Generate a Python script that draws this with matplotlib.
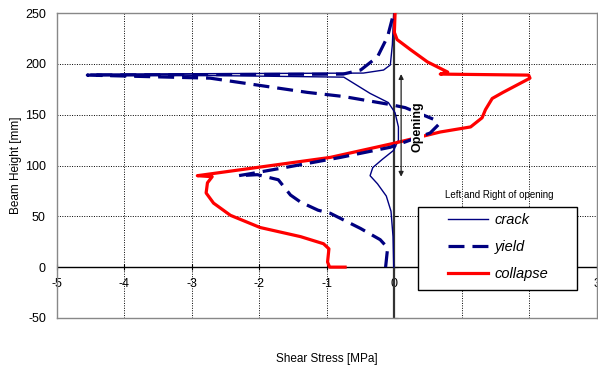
import matplotlib
matplotlib.use("Agg")
import matplotlib.pyplot as plt
from matplotlib.patches import Rectangle

plt.rcParams['font.family'] = ['Liberation Sans', 'DejaVu Sans']
plt.rcParams['axes.unicode_minus'] = False

# ---- data ----
crack_x = [-0.01, -0.02, -0.05, -0.12, -0.25, -0.36, -0.32, -0.18, -0.01, 0.06, 0.06, 0.01,
           -0.09, -0.36, -0.75, -4.5, -0.46, -0.16, -0.06, -0.03, -0.01]
crack_y = [0, 30, 55, 70, 82, 90, 98, 106, 115, 125, 138, 152,
           162, 171, 187, 190, 191, 194, 199, 219, 250]

yield_x = [-0.13, -0.10, -0.21, -0.50, -0.95, -1.13, -1.39, -1.54, -1.72, -2.03, -2.31, -2.13,
           -1.54, -0.80, -0.06, 0.53, 0.65, 0.60, 0.16, -0.06, -0.76, -1.29, -2.73, -4.55,
           -0.76, -0.50, -0.25, -0.10, -0.01]
yield_y = [0, 19, 27, 38, 53, 56, 64, 71, 86, 91, 90, 92,
           99, 108, 118, 132, 140, 145, 157, 160, 168, 172, 186, 189,
           190, 194, 207, 227, 250]

collapse_x = [-0.73, -0.96, -0.99, -0.97, -1.05, -1.39, -1.99, -2.43, -2.68, -2.79, -2.77, -2.70,
              -2.92, -0.95, 0.0, 0.68, 1.13, 1.30, 1.35, 1.45, 1.61, 2.01, 1.99, 0.68,
              0.79, 0.49, 0.24, 0.04, 0.0, 0.01]
collapse_y = [0, 0, 5, 18, 23, 30, 39, 51, 63, 73, 83, 89,
              90, 108, 122, 133, 138, 147, 155, 166, 172, 186, 189, 190,
              192, 202, 214, 224, 231, 250]

x_ticks = [-5, -4, -3, -2, -1, 0, 1, 2, 3]
y_ticks = [-50, 0, 50, 100, 150, 200, 250]
opening_span = (89, 190)
opening_x = 0.1

# ---- figure ----
fig = plt.figure(figsize=(5.98, 3.65), dpi=100)
ax = fig.add_axes([0.0953, 0.129, 0.9027, 0.835])
ax.set_xlim(-5, 3)
ax.set_ylim(-50, 250)
ax.set_xticks(x_ticks)
ax.set_yticks(y_ticks)
ax.grid(True, color='black', linestyle=(0, (1, 1.5)), linewidth=0.7)
ax.tick_params(axis='x', length=0, labelbottom=False)
ax.tick_params(axis='y', length=0, labelsize=9, pad=8)
for s in ax.spines.values():
    s.set_color('#888888')
    s.set_linewidth(1.0)

ax.axhline(0, color='black', linewidth=1.0, zorder=2)
ax.axvline(0, color='#333333', linewidth=1.6, zorder=2)

# x tick labels on the zero line
sec = ax.secondary_xaxis(1/6)
sec.set_xticks(x_ticks)
sec.tick_params(axis='x', direction='inout', length=4, labelsize=9, pad=6, color='black')
sec.spines['bottom'].set_visible(False)

secy = ax.secondary_yaxis(5/8)
secy.set_yticks(y_ticks)
secy.tick_params(axis='y', direction='out', length=3, labelleft=False, labelright=False,
                 color='black')
secy.spines['left'].set_visible(False)
secy.spines['right'].set_visible(False)

l1, = ax.plot(crack_x, crack_y, color='#000080', linewidth=1.0, label='crack', zorder=3)
l2, = ax.plot(yield_x, yield_y, color='#000080', linewidth=2.3, linestyle=(0, (5, 2.5)),
              label='yield', zorder=4)
l3, = ax.plot(collapse_x, collapse_y, color='#ff0000', linewidth=2.3, label='collapse', zorder=3)

ax.annotate('', xy=(opening_x, opening_span[0]), xytext=(opening_x, opening_span[1]),
            arrowprops=dict(arrowstyle='<|-|>', color='#222222', lw=0.9,
                            mutation_scale=7, shrinkA=0, shrinkB=0), zorder=5)
ax.text(0.34, 138, 'Opening', rotation=90, ha='center', va='center', fontsize=9,
        fontweight='bold', zorder=6,
        bbox=dict(facecolor='white', edgecolor='none', pad=0.5))

# legend box
ax.add_patch(Rectangle((0.669, 0.092), 0.294, 0.272, transform=ax.transAxes,
                       facecolor='white', edgecolor='black', linewidth=1.0, zorder=7))
leg = ax.legend(handles=[l1, l2, l3], loc='upper left', bbox_to_anchor=(0.724, 0.344),
                prop={'style': 'italic', 'size': 10.5}, frameon=False,
                handlelength=2.75, borderpad=0, labelspacing=0.9, handletextpad=0.45,
                borderaxespad=0)
leg.set_zorder(8)
ax.text(0.82, 0.403, 'Left and Right of opening', transform=ax.transAxes, ha='center',
        va='center', fontsize=7)

ax.set_ylabel('Beam Height [mm]', fontsize=8.5, labelpad=2)
ax.set_xlabel('Shear Stress [MPa]', fontsize=8.5, labelpad=25)

fig.savefig('out.png', dpi=100)
